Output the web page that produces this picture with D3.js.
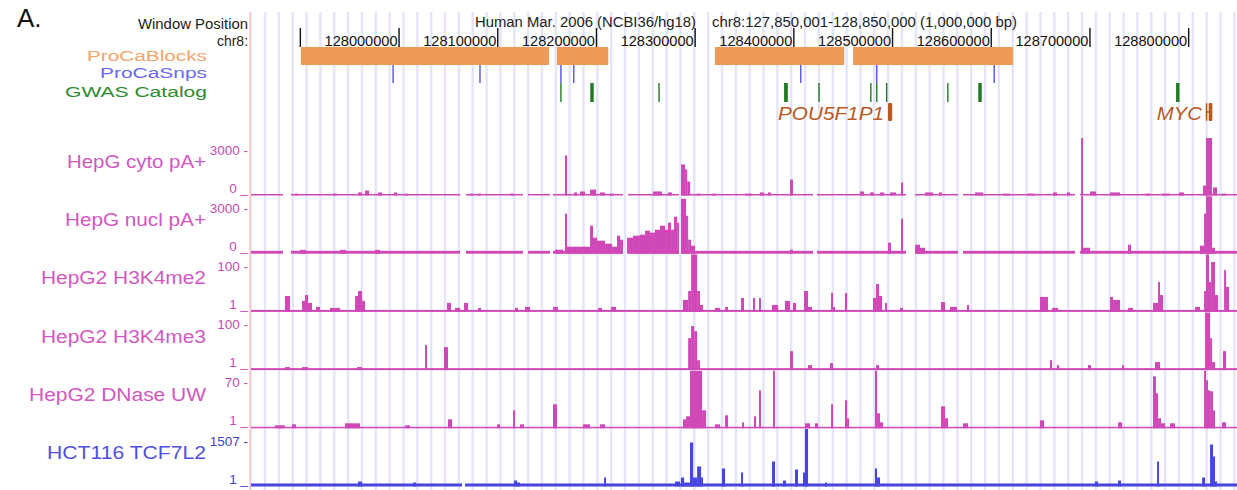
<!DOCTYPE html>
<html>
<head>
<meta charset="utf-8">
<script src="https://cdn.jsdelivr.net/npm/d3@7"></script>
<style>
  body { margin: 0; background: #fff; }
  svg { display: block; }
  text { font-family: "Liberation Sans", Arial, Helvetica, sans-serif; }
</style>
</head>
<body>
<svg id="chart" width="1237" height="490"></svg>
<script>
// ---------------- data ----------------
// Window: chr8:127,850,001-128,850,000 (hg18). All positions below are kb offsets from winStart.
const winStart = 127850000;
const winSpanKb = 1000;

// ruler ticks (kb offsets); the first one carries no label
const rulerTicksKb = [50, 150, 250, 350, 450, 550, 650, 750, 850, 950];

// ProCaBlocks [start, end]
const procaBlocks = [[50.5, 302], [310, 362], [470, 601], [610, 772]];
// ProCaSnps positions
const procaSnps = [144, 232, 314, 327, 557, 634, 753];
// GWAS Catalog hits [position, span]
const gwasHits = [[314, 1.4], [345.5, 3.5], [413.4, 1.4], [542, 3.8], [575.5, 1.4],
                  [628, 1.4], [634, 1.4], [644, 1.4], [706, 1.4], [738.6, 3.5], [939, 3.5]];
// Genes [name, start, end, exons]
const genes = [
  ["POU5F1P1", 645.4, 649.6, [[645.4, 649.6]]],
  ["MYC", 967.4, 974.0, [[967.4, 968.3], [970.3, 974.0]]]
];

// Signal track names, viewing ranges and baseline signal levels
const trackNames  = ["HepG cyto pA+", "HepG nucl pA+", "HepG2 H3K4me2", "HepG2 H3K4me3", "HepG2 DNase UW", "HCT116 TCF7L2"];
const trackMin    = [0, 0, 1, 1, 1, 1];
const trackMax    = [3000, 3000, 100, 100, 70, 1507];
const trackBase   = [80, 150, 4.4, 4.4, 2.8, 80];

// stretches with no data [start, end]
const cytoGaps = [[32.4, 40.5], [211.8, 217.8], [275.6, 280.7], [303, 306], [376.9, 382], [433.6, 435.7],
                  [569.4, 573.5], [663.6, 672.8], [716.3, 721.4], [834.9, 840]];
const nuclGaps = cytoGaps;
const me2Gaps = [];
const me3Gaps = [];
const dnaseGaps = [];
const tcfGaps = [[213.8, 216.8]];

// signal [start, end, value]
const cytoBars = [
  [44.6, 47.6, 100], [83, 87, 100], [108.4, 112.5, 160], [115.5, 119.6, 260], [128.7, 132.7, 160],
  [144.9, 148, 160], [156, 159, 100], [221.9, 225, 100], [230, 233, 100], [262.4, 266.5, 100],
  [318.1, 320.2, 2090], [327.3, 330.3, 160], [333.3, 338.4, 210], [343.5, 349.6, 310], [353.6, 358.7, 160],
  [363.7, 367.8, 100], [407.3, 416.4, 210], [422.5, 426.5, 160], [435.7, 439.8, 1620], [439.8, 441.9, 1360],
  [441.9, 444.9, 730], [451.9, 454.9, 100], [467, 471.2, 100], [500.5, 507.6, 100], [515.7, 519.8, 160],
  [523.8, 526.9, 160], [546.1, 549.1, 830], [617, 621, 210], [627.2, 631.2, 160], [637.3, 641.4, 160],
  [647.5, 653.5, 160], [658.6, 660.6, 680], [682.9, 691, 160], [697, 700, 160], [733.6, 741.7, 160],
  [762, 769, 100], [786.2, 794.3, 100], [812.6, 816.6, 160], [826.8, 829.8, 160], [841, 843, 3000],
  [850.1, 856.2, 210], [870.3, 880.5, 160], [905.8, 910.9, 100], [923, 931.1, 100], [940.3, 945.3, 160],
  [964.6, 967.6, 520], [967.6, 973.7, 3000], [974.7, 978.8, 420], [983.8, 987.9, 100]
];
const nuclBars = [
  [49.6, 55.7, 200], [90.2, 96.3, 200], [125.6, 130.7, 200], [308, 316.1, 210], [318.1, 320.2, 2090],
  [320.2, 343.5, 365], [343.5, 346.5, 1460], [346.5, 350.6, 835], [350.6, 358.7, 680], [358.7, 365.8, 520],
  [365.8, 370.8, 365], [370.8, 373.9, 940], [373.9, 376.9, 730], [381, 387, 835], [387, 394.1, 940],
  [394.1, 399.2, 990], [399.2, 404.3, 1200], [404.3, 409.3, 1100], [409.3, 414.4, 1250], [414.4, 419.5, 1460],
  [419.5, 422.5, 1250], [422.5, 425.6, 1620], [425.6, 428.6, 1250], [428.6, 431.7, 1930], [431.7, 433.6, 1620],
  [435.7, 440.8, 2870], [440.8, 442.9, 1980], [442.9, 445.8, 730], [445.8, 449.9, 420], [546.1, 549.1, 210],
  [645.4, 648.4, 575], [658.6, 660.6, 1830], [672.8, 677.8, 470], [677.8, 682.9, 310], [841, 843, 3000],
  [843, 850.1, 310], [888.6, 891.6, 470], [961.5, 965.6, 420], [965.6, 967.6, 2090], [967.6, 973.7, 3000],
  [973.7, 976.7, 310]
];
const me2Bars = [
  [34.4, 39.5, 28.5], [51.7, 54.7, 20], [54.7, 57.8, 30], [57.8, 61.8, 16.5], [65.9, 69.9, 9.6],
  [80, 90.2, 7.9], [105.4, 108.4, 28.5], [108.4, 112.5, 37], [112.5, 115.5, 20], [198.6, 202.6, 16.5],
  [206.7, 211.8, 7.9], [215.8, 219.9, 16.5], [230, 233, 7.9], [267.5, 270.5, 7.9], [277.6, 282.7, 9.6],
  [306, 311, 9.6], [351.6, 355.6, 7.9], [364.8, 369.8, 9.6], [437.7, 442.9, 21.6], [442.9, 445.9, 37],
  [445.9, 452, 100], [452, 454.9, 37], [454.9, 458, 13], [470.1, 475.2, 7.9], [480.3, 483.3, 9.6],
  [496.5, 499.5, 25], [508.6, 510.7, 25], [514.7, 516.7, 25], [527.9, 534, 13], [541, 546.1, 20],
  [549.1, 552.2, 16.5], [560.3, 564.4, 37], [564.4, 568.4, 9.6], [587.7, 589.7, 33.7], [589.7, 591.7, 9.6],
  [601.8, 603.9, 33.7], [630.2, 633.3, 25], [633.3, 636.3, 49], [636.3, 639.4, 28.5], [642.4, 644.4, 16.5],
  [657.6, 660.6, 7.9], [699.1, 703.2, 18], [708.2, 715.3, 9.6], [725.4, 727.5, 13], [799.4, 807.5, 26.8],
  [811.6, 817.7, 7.9], [870.3, 873.4, 26.8], [873.4, 880.5, 21.6], [888.6, 893.6, 7.9], [913.9, 919, 16.5],
  [919, 921, 52.6], [921, 924, 30], [956.5, 961.5, 9.6], [965.6, 967.6, 37], [967.6, 970.6, 100],
  [970.6, 972.7, 52.6], [972.7, 976.7, 87], [976.7, 979.8, 30], [985.9, 987.9, 73], [987.9, 990.9, 44]
];
const me3Bars = [
  [34.4, 39.5, 6.2], [51.7, 57.8, 6.2], [107.4, 112.5, 6.2], [176.3, 178.3, 44], [195.5, 199.6, 40.6],
  [442.9, 445.9, 56], [445.9, 449, 76.8], [449, 452, 68], [452, 454.9, 18], [546.1, 549.1, 33.7],
  [564.4, 568.4, 9.6], [586.6, 589.7, 13], [633.3, 636.3, 9.6], [809.5, 811.6, 18], [816.6, 818.7, 9.6],
  [848, 851.1, 9.6], [882.5, 884.5, 9.6], [915.9, 921, 14.8], [966.6, 971.7, 100], [971.7, 973.7, 56],
  [973.7, 976.7, 14.8], [984.8, 987.9, 33.7]
];
const dnaseBars = [
  [24.3, 34.4, 4.6], [41.5, 45.6, 5.8], [95.2, 110.4, 7], [156, 161.1, 4.6], [199.6, 203.7, 11.8],
  [249.2, 252.3, 5.8], [265.5, 267.5, 22.6], [272.6, 276.6, 5.8], [306, 310, 29.8], [336.4, 343.5, 5.8],
  [353.6, 358.7, 5.8], [437.7, 440.8, 11.8], [440.8, 444.8, 15.4], [444.8, 457, 70], [457, 461, 22.6],
  [470.1, 475.2, 5.8], [480.3, 483.3, 16.6], [497.5, 499.5, 8.2], [509.6, 511.7, 15.4], [514.7, 516.7, 46.6],
  [528.9, 530.9, 70], [561.3, 566.4, 7], [571.4, 574.5, 7], [587.7, 589.7, 29.8], [601.8, 603.9, 34.6],
  [603.9, 605.9, 13], [632.2, 634.3, 70], [634.3, 637.3, 19], [637.3, 640.4, 8.2], [699.1, 703.2, 27.4],
  [703.2, 706.2, 13], [721.4, 726.5, 7], [799.4, 803.5, 10.6], [878.5, 882.5, 8.2], [913.9, 916.9, 63.4],
  [916.9, 919, 43], [919, 922, 13], [922, 926.1, 7], [931.1, 936.2, 7], [965.6, 967.6, 70],
  [967.6, 969.6, 58.6], [969.6, 971.7, 46.6], [971.7, 974.7, 45.4], [974.7, 976.7, 22.6], [983.8, 987.9, 8.2]
];
const tcfBars = [
  [108.4, 112.5, 132], [164.1, 167.2, 106], [266.5, 269.5, 158], [269.5, 272.6, 106], [357.7, 359.7, 237],
  [429.6, 434.7, 132], [435.7, 438.8, 237], [438.8, 444.8, 106], [444.8, 447.9, 1154], [447.9, 452, 237],
  [452, 456, 525], [456, 458, 237], [477.2, 480.3, 473], [496.5, 498.5, 368], [527.9, 530.9, 656],
  [539, 542, 158], [551.2, 554.2, 446], [559.3, 561.3, 368], [561.3, 564.4, 1507], [581.6, 583.6, 106],
  [632.2, 634.3, 473], [634.3, 637.3, 237], [855.1, 858.2, 132], [878.5, 881.5, 158], [918, 920, 656],
  [963.6, 966.6, 237], [971.7, 974.7, 1101], [974.7, 976.7, 787], [976.7, 978.8, 132]
];

const trackGaps = [cytoGaps, nuclGaps, me2Gaps, me3Gaps, dnaseGaps, tcfGaps];
const trackBars = [cytoBars, nuclBars, me2Bars, me3Bars, dnaseBars, tcfBars];

// ---------------- layout & style ----------------
const W = 1237, H = 490;
const plotLeft = 251, plotRight = 1238;
const trackTop0 = 138, trackStep = 58.2, trackH = 57.5;
const trackColors = ["#D048B8", "#D048B8", "#D048B8", "#D048B8", "#D048B8", "#4646DE"];
const labelColors = ["#D257C2", "#D257C2", "#D257C2", "#D257C2", "#D257C2", "#5050DC"];
const axisColors  = ["#C84AB6", "#C84AB6", "#C84AB6", "#C84AB6", "#C84AB6", "#3E3EC8"];
const trackLabelWidths = [139, 141, 165, 165, 177, 159];

const svg = d3.select("#chart");
const x = d3.scaleLinear().domain([0, winSpanKb]).range([plotLeft, plotRight]);

svg.append("rect").attr("width", W).attr("height", H).attr("fill", "#fff");

// light blue guidelines across the whole browser image
const guideKb = d3.range(14.2, winSpanKb, 14.03);
svg.append("g").selectAll("line").data(guideKb).join("line")
  .attr("x1", d => x(d)).attr("x2", d => x(d))
  .attr("y1", 12).attr("y2", H)
  .attr("stroke", "#E4E4FA").attr("stroke-width", 2.4);

// pink separator at the left edge of the data area
svg.append("line").attr("x1", 250.3).attr("x2", 250.3).attr("y1", 12).attr("y2", H)
  .attr("stroke", "#FBC4CC").attr("stroke-width", 2);

// panel letter
svg.append("text").attr("x", 17).attr("y", 27).attr("font-size", 26).attr("fill", "#111").text("A.");

// ---- header / ruler ----
function txt(g, t, xx, yy, size, color, anchor, len, extra) {
  const el = g.append("text").attr("x", xx).attr("y", yy).attr("font-size", size)
    .attr("fill", color).attr("text-anchor", anchor || "start").text(t);
  if (len) el.attr("textLength", len).attr("lengthAdjust", "spacingAndGlyphs");
  if (extra) extra(el);
  return el;
}
const hdr = svg.append("g");
txt(hdr, "Window Position", 248, 28.5, 14, "#222", "end", 110);
txt(hdr, "chr8:", 248, 46, 14, "#222", "end", 31);
txt(hdr, "Human Mar. 2006 (NCBI36/hg18)", 475, 27, 14, "#222", "start", 221);
txt(hdr, "chr8:" + d3.format(",")(winStart + 1) + "-" + d3.format(",")(winStart + winSpanKb * 1000) +
         " (" + d3.format(",")(winSpanKb * 1000) + " bp)", 712, 27, 14, "#222", "start", 305);

const ruler = svg.append("g");
ruler.selectAll("line").data(rulerTicksKb).join("line")
  .attr("x1", d => x(d)).attr("x2", d => x(d)).attr("y1", 28).attr("y2", 47)
  .attr("stroke", "#111").attr("stroke-width", 1.4);
ruler.selectAll("text").data(rulerTicksKb.slice(1)).join("text")
  .attr("x", d => x(d) - 1.5).attr("y", 46).attr("text-anchor", "end")
  .attr("font-size", 14).attr("fill", "#111")
  .attr("textLength", 73).attr("lengthAdjust", "spacingAndGlyphs")
  .text(d => String(winStart + d * 1000));

// ---- annotation tracks ----
const ann = svg.append("g");
txt(ann, "ProCaBlocks", 207, 60.5, 15.5, "#F3A36C", "end", 120);
txt(ann, "ProCaSnps", 207, 78, 15.5, "#6868F8", "end", 107);
txt(ann, "GWAS Catalog", 207, 96.5, 15.5, "#2C8A2C", "end", 142);

ann.append("g").selectAll("rect").data(procaBlocks).join("rect")
  .attr("x", d => x(d[0])).attr("width", d => x(d[1]) - x(d[0]))
  .attr("y", 47).attr("height", 18).attr("fill", "#EF9B58");
ann.append("g").selectAll("rect").data(procaSnps).join("rect")
  .attr("x", d => x(d) - 0.75).attr("width", 1.5)
  .attr("y", 65).attr("height", 18).attr("fill", "#5E5EF2");
ann.append("g").selectAll("rect").data(gwasHits).join("rect")
  .attr("x", d => x(d[0] - d[1] / 2)).attr("width", d => Math.max(1.4, x(d[1]) - x(0)))
  .attr("y", 83).attr("height", 19).attr("fill", "#1F7C22");

// genes
const geneColor = "#B9581F";
const gg = svg.append("g");
genes.forEach(([name, s, e, exons]) => {
  gg.append("line").attr("x1", x(s)).attr("x2", x(e)).attr("y1", 112).attr("y2", 112)
    .attr("stroke", geneColor).attr("stroke-width", 1.4);
  exons.forEach(([a, b]) => {
    gg.append("rect").attr("x", x(a)).attr("width", Math.max(1.5, x(b) - x(a)))
      .attr("y", 103).attr("height", 18).attr("rx", 1.2).attr("fill", geneColor);
  });
  txt(gg, name, x(s) - 4, 120, 19, geneColor, "end", name === "MYC" ? 45 : 106,
      el => el.attr("font-style", "italic"));
});

// ---- signal tracks ----
trackNames.forEach((name, i) => {
  const top = trackTop0 + i * trackStep;
  const bottom = top + trackH;
  const y = d3.scaleLinear().domain([trackMin[i], trackMax[i]]).range([bottom, top]).clamp(true);
  const g = svg.append("g");

  // continuous low-level signal wherever data exist
  const gaps = trackGaps[i];
  const cover = [];
  let pos = 0;
  gaps.forEach(([a, b]) => { if (a > pos) cover.push([pos, a]); pos = b; });
  if (pos < winSpanKb) cover.push([pos, winSpanKb]);
  g.append("g").selectAll("rect").data(cover).join("rect")
    .attr("x", d => x(d[0])).attr("width", d => x(d[1]) - x(d[0]))
    .attr("y", y(trackBase[i])).attr("height", bottom - y(trackBase[i]))
    .attr("fill", trackColors[i]);

  g.append("g").selectAll("rect").data(trackBars[i]).join("rect")
    .attr("x", d => x(d[0])).attr("width", d => Math.max(1.3, x(d[1]) - x(d[0])))
    .attr("y", d => y(d[2])).attr("height", d => bottom - y(d[2]))
    .attr("fill", trackColors[i]);

  // track label and vertical range labels
  txt(g, name, 206, top + 30, 17.5, labelColors[i], "end", trackLabelWidths[i]);
  txt(g, trackMax[i] + " -", 248, top + 16.5, 13.5, axisColors[i], "end");
  txt(g, trackMin[i] + " _", 248, bottom - 3, 13.5, axisColors[i], "end");
});
</script>
</body>
</html>
